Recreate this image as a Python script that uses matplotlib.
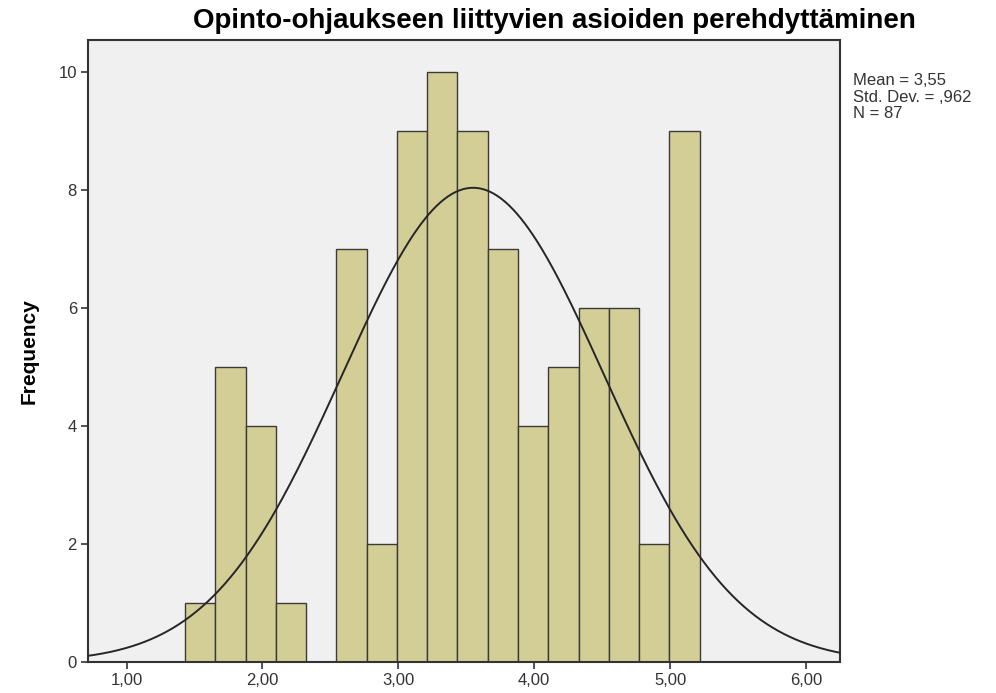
import numpy as np
import matplotlib.pyplot as plt

# histogram bins (SPSS style)
bin_start = 1.43
bin_width = 0.2228
counts = [1, 5, 4, 1, 0, 7, 2, 9, 10, 9, 7, 4, 5, 6, 6, 2, 9]
mean = 3.55
std_dev = 0.962
n = 87

x_ticks = [1, 2, 3, 4, 5, 6]
x_tick_labels = ["1,00", "2,00", "3,00", "4,00", "5,00", "6,00"]
y_ticks = [0, 2, 4, 6, 8, 10]

plt.rcParams["font.family"] = ["Liberation Sans", "DejaVu Sans"]

fig = plt.figure(figsize=(9.96, 6.93), dpi=100)
ax = fig.add_axes([0.0884, 0.0447, 0.755, 0.8973])
ax.set_facecolor("#f0f0f0")

edges = bin_start + bin_width * np.arange(len(counts) + 1)
ax.bar(edges[:-1], counts, width=bin_width, align="edge",
       color="#d3ce96", edgecolor="#3a3a3a", linewidth=1.0, zorder=2)

# normal curve scaled to counts
xs = np.linspace(0.7, 6.3, 400)
ys = n * bin_width * np.exp(-0.5 * ((xs - mean) / std_dev) ** 2) / (std_dev * np.sqrt(2 * np.pi))
ax.plot(xs, ys, color="#262626", linewidth=1.4, zorder=3)

ax.set_xlim(0.717, 6.25)
ax.set_ylim(0, 10.54)
ax.set_xticks(x_ticks)
ax.set_xticklabels(x_tick_labels)
ax.set_yticks(y_ticks)
ax.tick_params(axis="both", labelsize=12, colors="#333333", length=5, width=1.2, pad=3)

for s in ax.spines.values():
    s.set_color("#333333")
    s.set_linewidth(1.5)

ax.set_ylabel("Frequency", fontsize=15, fontweight="bold", labelpad=14)

fig.text(0.557, 0.970, "Opinto-ohjaukseen liittyvien asioiden perehdyttäminen",
         ha="center", va="center", fontsize=20, fontweight="bold")

fig.text(0.856, 0.895, "Mean = 3,55\nStd. Dev. = ,962\nN = 87",
         ha="left", va="top", fontsize=12, color="#333333", linespacing=1.15)

plt.savefig("out.png", dpi=100)
